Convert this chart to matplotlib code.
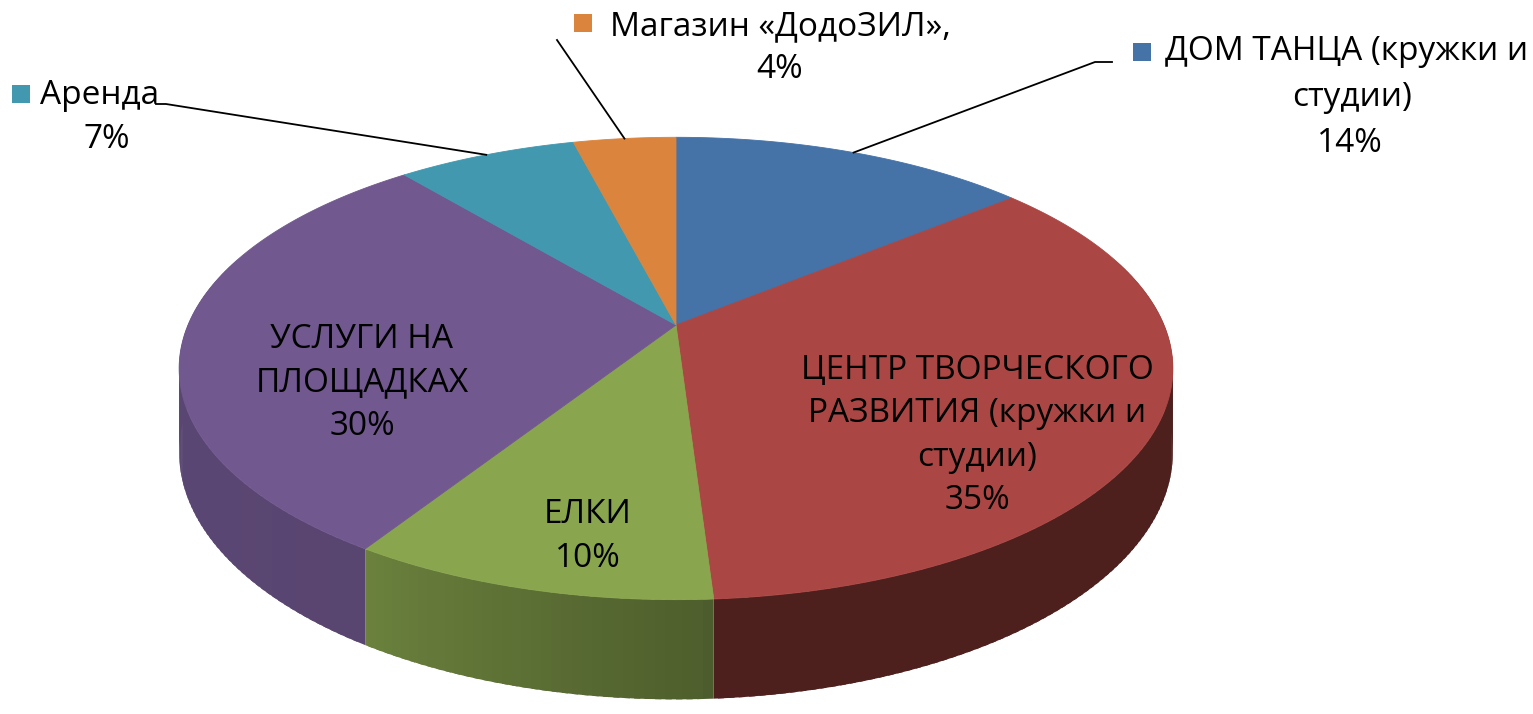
import numpy as np
import matplotlib.pyplot as plt
from matplotlib.collections import PolyCollection
from matplotlib.colors import to_rgb

plt.rcParams['font.family'] = ['Open Sans', 'DejaVu Sans']

# --- data (clockwise from 12 o'clock) ---
categories = ["ДОМ ТАНЦА (кружки и студии)",
              "ЦЕНТР ТВОРЧЕСКОГО РАЗВИТИЯ (кружки и студии)",
              "ЕЛКИ",
              "УСЛУГИ НА ПЛОЩАДКАХ",
              "Аренда",
              "Магазин «ДодоЗИЛ»,"]
values = [14, 35, 10, 30, 7, 4]
colors = ["#4572A7", "#AA4643", "#89A54E", "#71588F", "#4198AF", "#DB843D"]
wrapped = ["ДОМ ТАНЦА (кружки и\nстудии)",
           "ЦЕНТР ТВОРЧЕСКОГО\nРАЗВИТИЯ (кружки и\nстудии)",
           "ЕЛКИ",
           "УСЛУГИ НА\nПЛОЩАДКАХ",
           "Аренда",
           "Магазин «ДодоЗИЛ»,"]
inside = [False, True, True, True, False, False]

# --- 3d pie geometry, in pixels ---
CX, CY = 676, 325      # projected centre of top face
AR, BR = 488, 223      # horizontal / vertical radius before perspective
K = 0.188              # perspective strength
H = 81                 # thickness
FS = 24


def proj(theta, r=1.0, down=0.0):
    t = np.radians(theta)
    X = r * np.sin(t)
    Z = -r * np.cos(t)
    s = 1.0 / (1.0 - K * Z)
    return CX + AR * X * s, CY + BR * Z * s + H * s * down


def shade(theta):
    # darker on the right, lighter towards the left
    return np.interp(theta % 360, [0, 176, 177, 212, 240, 360],
                     [0.45, 0.45, 0.57, 0.78, 0.80, 0.80])


fig = plt.figure(figsize=(15.33, 7.14), dpi=100)
ax = fig.add_axes([0, 0, 1, 1])
ax.set_xlim(0, 1533)
ax.set_ylim(714, 0)
ax.axis('off')

total = sum(values)
bounds = np.concatenate([[0], np.cumsum(values)]) / total * 360

# side walls, back to front (small overlapping strips for the shading)
quads, qcols, depth = [], [], []
for i in range(len(values)):
    a0, a1 = bounds[i], bounds[i + 1]
    n = max(2, int(np.ceil(a1 - a0)))
    th = np.linspace(a0, a1, n + 1)
    for t0, t1 in zip(th[:-1], th[1:]):
        tm = (t0 + t1) / 2
        if np.cos(np.radians(tm)) > 0.3:
            continue
        t1e = min(t1 + 0.6, a1)
        p = [proj(t0), proj(t1e), proj(t1e, down=1), proj(t0, down=1)]
        quads.append(p)
        qcols.append(tuple(np.array(to_rgb(colors[i])) * shade(tm)))
        depth.append(-np.cos(np.radians(tm)))
order = np.argsort(depth)
ax.add_collection(PolyCollection([quads[j] for j in order],
                                 facecolors=[qcols[j] for j in order],
                                 edgecolors='none', linewidths=0))

# top faces
for i in range(len(values)):
    th = np.linspace(bounds[i], bounds[i + 1], 200)
    xs, ys = proj(th)
    pts = [(CX, CY)] + list(zip(xs, ys))
    ax.add_patch(plt.Polygon(pts, closed=True, facecolor=colors[i],
                             edgecolor=colors[i], linewidth=0.6))

# inside labels
for i in range(len(values)):
    if not inside[i]:
        continue
    mid = (bounds[i] + bounds[i + 1]) / 2
    x, y = proj(mid, 0.64, down=0.6)
    ax.text(x, y, wrapped[i] + "\n" + f"{values[i]}%", ha='center', va='center',
            fontsize=FS, linespacing=1.42, color='black')

# outside labels: legend key, first line, other lines, leader start
outside = {
    0: dict(key=(1142, 52), text=(1165, 52), rest=[("студии)", 1352, 98)],
            pct=(1350, 143), lead=[(1112, 62), (1095, 62)]),
    4: dict(key=(21, 94), text=(40, 96), rest=[], pct=(107, 140),
            lead=[(156, 104), (166, 104)]),
    5: dict(key=(583, 23), text=(610, 27), rest=[], pct=(780, 70),
            lead=[(557, 40)]),
}
for i, lay in outside.items():
    kx, ky = lay['key']
    ax.add_patch(plt.Rectangle((kx - 9, ky - 9), 18, 18, facecolor=colors[i],
                               edgecolor='none'))
    first = wrapped[i].split("\n")[0]
    ax.text(lay['text'][0], lay['text'][1], first, ha='left', va='center',
            fontsize=FS)
    for s, x, y in lay['rest']:
        ax.text(x, y, s, ha='center', va='center', fontsize=FS)
    ax.text(lay['pct'][0], lay['pct'][1], f"{values[i]}%", ha='center',
            va='center', fontsize=FS)
    mid = (bounds[i] + bounds[i + 1]) / 2
    ex, ey = proj(mid)
    pts = lay['lead'] + [(ex, ey)]
    ax.plot([p[0] for p in pts], [p[1] for p in pts], color='black', lw=1.3)

fig.savefig("out.png", dpi=100)
